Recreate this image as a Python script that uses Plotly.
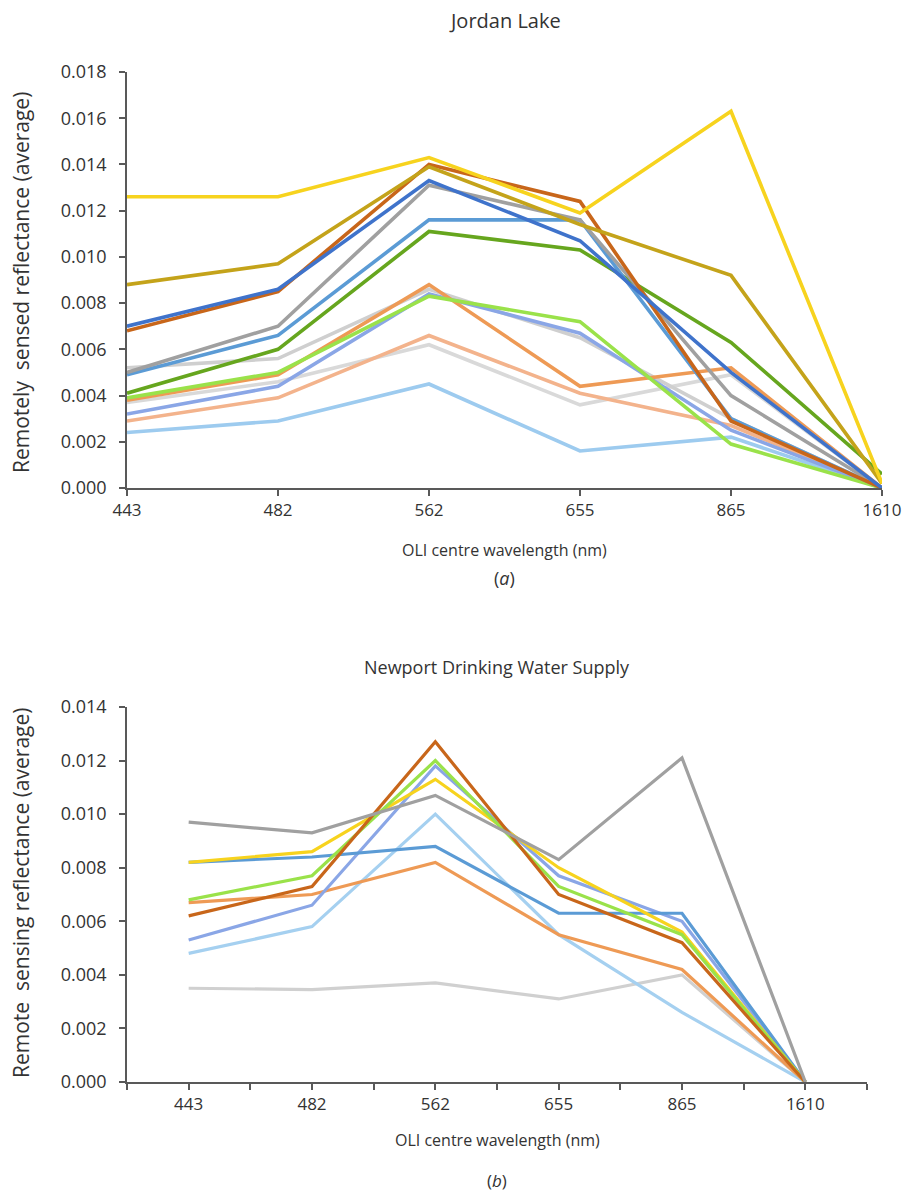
import plotly.graph_objects as go

# ---------------- data ----------------
wavelengths = ["443", "482", "562", "655", "865", "1610"]

# (a) Jordan Lake
jl_light_sky = [0.0024, 0.0029, 0.0045, 0.0016, 0.0022, 0.0000]
jl_light_gray2 = [0.0037, 0.0046, 0.0062, 0.0036, 0.0049, 0.0000]
jl_salmon = [0.0029, 0.0039, 0.0066, 0.0041, 0.0027, 0.0000]
jl_light_gray = [0.0052, 0.0056, 0.0086, 0.0065, 0.0030, 0.0000]
jl_periwinkle = [0.0032, 0.0044, 0.0084, 0.0067, 0.0025, 0.0000]
jl_orange = [0.0038, 0.0049, 0.0088, 0.0044, 0.0052, 0.0000]
jl_light_green = [0.0039, 0.0050, 0.0083, 0.0072, 0.0019, 0.0000]
jl_green = [0.0041, 0.0060, 0.0111, 0.0103, 0.0063, 0.0006]
jl_med_blue = [0.0049, 0.0066, 0.0116, 0.0116, 0.0030, 0.0000]
jl_gray = [0.0050, 0.0070, 0.0131, 0.0116, 0.0040, 0.0000]
jl_brown = [0.0068, 0.0085, 0.0140, 0.0124, 0.0029, 0.0000]
jl_dark_blue = [0.0070, 0.0086, 0.0133, 0.0107, 0.0050, 0.0000]
jl_olive = [0.0088, 0.0097, 0.0139, 0.0114, 0.0092, 0.0002]
jl_yellow = [0.0126, 0.0126, 0.0143, 0.0119, 0.0163, 0.0002]

# (b) Newport Drinking Water Supply
nw_light_gray = [0.0035, 0.00345, 0.0037, 0.0031, 0.0040, 0.0000]
nw_light_blue = [0.0048, 0.0058, 0.0100, 0.0055, 0.0026, 0.0000]
nw_orange = [0.0067, 0.0070, 0.0082, 0.0055, 0.0042, 0.0000]
nw_periwinkle = [0.0053, 0.0066, 0.0118, 0.0077, 0.0060, 0.0000]
nw_med_blue = [0.0082, 0.0084, 0.0088, 0.0063, 0.0063, 0.0000]
nw_yellow = [0.0082, 0.0086, 0.0113, 0.0080, 0.0056, 0.0000]
nw_light_green = [0.0068, 0.0077, 0.0120, 0.0073, 0.0055, 0.0000]
nw_brown = [0.0062, 0.0073, 0.0127, 0.0070, 0.0052, 0.0000]
nw_gray = [0.0097, 0.0093, 0.0107, 0.0083, 0.0121, 0.0000]

top_ticks = [0.000, 0.002, 0.004, 0.006, 0.008, 0.010, 0.012, 0.014, 0.016, 0.018]
bot_ticks = [0.000, 0.002, 0.004, 0.006, 0.008, 0.010, 0.012, 0.014]

# ---------------- figure ----------------
OFF = 8                      # page body margin
W, H = 910 - 2 * OFF, 1203 - 2 * OFF
FONT = "Open Sans"
AXC = "#595959"
TXT = "#333333"

top_series = [
    (jl_light_sky, "#9DCBEF"),
    (jl_light_gray2, "#D9D9D9"),
    (jl_salmon, "#F3B38C"),
    (jl_light_gray, "#CFCFCF"),
    (jl_periwinkle, "#8AA6E6"),
    (jl_orange, "#EE9A55"),
    (jl_light_green, "#9AE24A"),
    (jl_green, "#66A61E"),
    (jl_med_blue, "#5B9BD5"),
    (jl_gray, "#A0A0A0"),
    (jl_brown, "#C8661A"),
    (jl_dark_blue, "#3F73CB"),
    (jl_olive, "#C4A31A"),
    (jl_yellow, "#F7D31E"),
]

bot_series = [
    (nw_light_gray, "#D0D0D0"),
    (nw_light_blue, "#A5D0F0"),
    (nw_orange, "#EE9A55"),
    (nw_periwinkle, "#8AA6E6"),
    (nw_med_blue, "#5B9BD5"),
    (nw_yellow, "#F7D31E"),
    (nw_light_green, "#9AE24A"),
    (nw_brown, "#C8661A"),
    (nw_gray, "#A0A0A0"),
]

fig = go.Figure()

top_x = list(range(len(wavelengths)))
for vals, col in top_series:
    fig.add_trace(go.Scatter(x=top_x, y=vals, mode="lines",
                             line=dict(color=col, width=3.6),
                             xaxis="x", yaxis="y", showlegend=False,
                             hoverinfo="skip"))

bot_x = [i + 1 for i in range(len(wavelengths))]
for vals, col in bot_series:
    fig.add_trace(go.Scatter(x=bot_x, y=vals, mode="lines",
                             line=dict(color=col, width=3.2),
                             xaxis="x2", yaxis="y2", showlegend=False,
                             hoverinfo="skip"))

bot_tickvals = [0.5 + 0.5 * i for i in range(13)]
bot_ticktext = []
for v in bot_tickvals:
    if abs(v - round(v)) < 1e-9 and 1 <= round(v) <= len(wavelengths):
        bot_ticktext.append(wavelengths[int(round(v)) - 1])
    else:
        bot_ticktext.append("")

def px_x(px):
    return (px - OFF) / W

def px_y(py):
    return 1 - (py - OFF) / H

axis_common = dict(showgrid=False, zeroline=False, showline=True,
                   automargin=False, ticklabeloverflow="allow",
                   linecolor=AXC, linewidth=1.5, ticks="outside",
                   tickcolor=AXC, ticklen=6, tickwidth=1.5)
yfont = dict(family=FONT, size=18, color=TXT)
xfont = dict(family=FONT, size=17, color=TXT)

fig.update_layout(
    width=W, height=H,
    margin=dict(l=0, r=0, t=0, b=0, autoexpand=False),
    paper_bgcolor="white", plot_bgcolor="white",
    xaxis=dict(domain=[px_x(127), px_x(882)], anchor="y",
               range=[0, 5], tickmode="array", tickvals=top_x,
               ticktext=wavelengths, tickfont=xfont, **axis_common),
    yaxis=dict(domain=[px_y(488), px_y(72)], anchor="x",
               range=[0, 0.018], tickmode="array", tickvals=top_ticks,
               ticktext=[f"{t:.3f}" for t in top_ticks], tickfont=yfont,
               ticklabelstandoff=9, **axis_common),
    xaxis2=dict(domain=[px_x(127), px_x(867)], anchor="y2",
                range=[0.5, 6.5], tickmode="array", tickvals=bot_tickvals,
                ticktext=bot_ticktext, tickfont=xfont, **axis_common),
    yaxis2=dict(domain=[px_y(1082), px_y(707)], anchor="x2",
                range=[0, 0.014], tickmode="array", tickvals=bot_ticks,
                ticktext=[f"{t:.3f}" for t in bot_ticks], tickfont=yfont,
                ticklabelstandoff=9, **axis_common),
)

ann = [
    dict(text="Jordan Lake", x=px_x(505), y=px_y(20), size=20),
    dict(text="OLI centre wavelength (nm)", x=px_x(505), y=px_y(550), size=16),
    dict(text="(<i>a</i>)", x=px_x(505), y=px_y(578), size=18),
    dict(text="Newport Drinking Water Supply", x=px_x(497), y=px_y(667), size=18),
    dict(text="OLI centre wavelength (nm)", x=px_x(497), y=px_y(1140), size=16),
    dict(text="(<i>b</i>)", x=px_x(497), y=px_y(1180), size=17),
]
for a in ann:
    fig.add_annotation(text=a["text"], x=a["x"], y=a["y"], xref="paper",
                       yref="paper", showarrow=False, xanchor="center",
                       yanchor="middle",
                       font=dict(family=FONT, size=a["size"], color=TXT))

fig.add_annotation(text="Remotely  sensed reflectance (average)",
                   x=px_x(21), y=px_y(283), xref="paper", yref="paper",
                   showarrow=False, textangle=-90, xanchor="center",
                   yanchor="middle", font=dict(family=FONT, size=21, color=TXT))
fig.add_annotation(text="Remote  sensing reflectance (average)",
                   x=px_x(21), y=px_y(893), xref="paper", yref="paper",
                   showarrow=False, textangle=-90, xanchor="center",
                   yanchor="middle", font=dict(family=FONT, size=21, color=TXT))

fig.write_html("out.html")
